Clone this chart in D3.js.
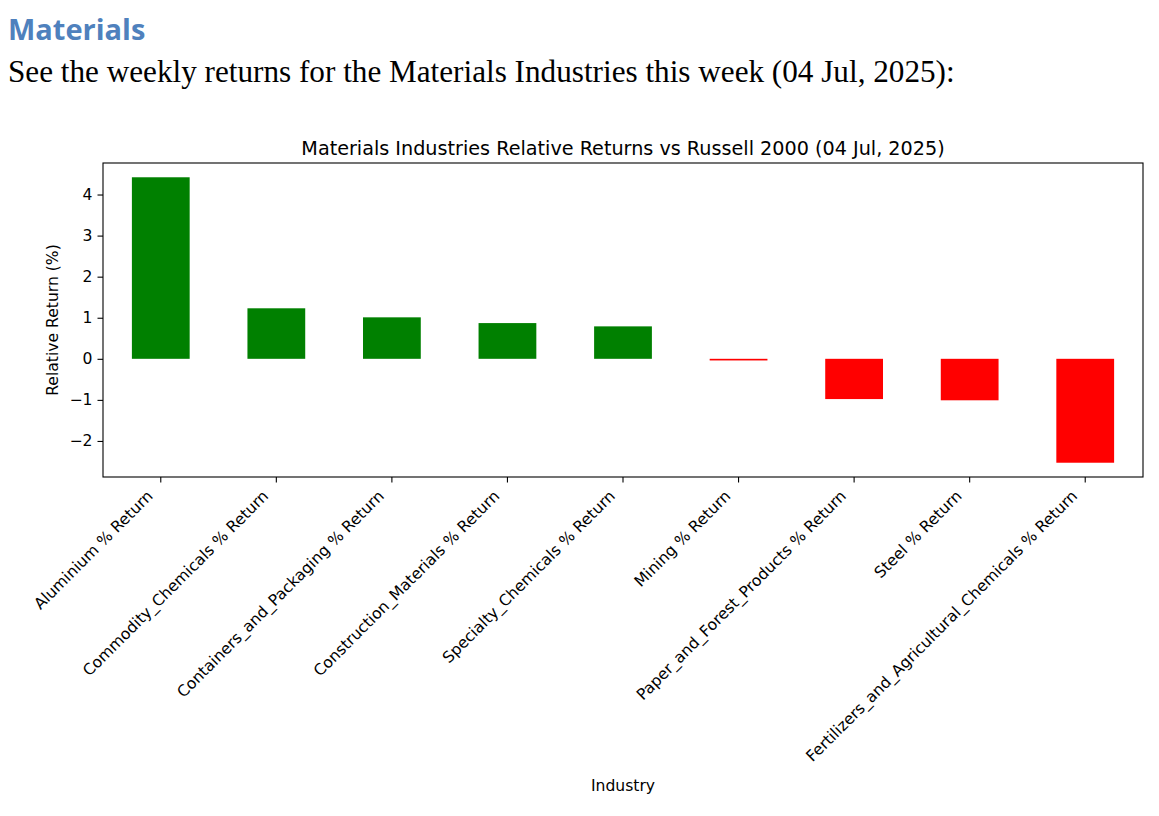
<!DOCTYPE html>
<html>
<head>
<meta charset="utf-8">
<script src="https://cdn.jsdelivr.net/npm/d3@7"></script>
<style>
  body { margin: 0; background: #fff; }
  svg { display: block; }
</style>
</head>
<body>
<div id="chart"></div>
<script>
// datos
const industries = [
  "Aluminium % Return",
  "Commodity_Chemicals % Return",
  "Containers_and_Packaging % Return",
  "Construction_Materials % Return",
  "Specialty_Chemicals % Return",
  "Mining % Return",
  "Paper_and_Forest_Products % Return",
  "Steel % Return",
  "Fertilizers_and_Agricultural_Chemicals % Return"
]
const returns = [4.42, 1.23, 1.01, 0.87, 0.79, -0.04, -0.98, -1.01, -2.53]
const yTicks = [-2, -1, 0, 1, 2, 3, 4]

const heading = "Materials"
const intro = "See the weekly returns for the Materials Industries this week (04 Jul, 2025):"
const chartTitle = "Materials Industries Relative Returns vs Russell 2000 (04 Jul, 2025)"

// medidas
const width = 1159
const height = 816
const plot = { left: 103, right: 1143, top: 163, bottom: 477 }

const svg = d3.select("#chart").append("svg").attr("width", width).attr("height", height)

// cabecera
svg.append("text").text(heading)
  .attr("x", 8).attr("y", 40)
  .attr("font-family", "Open Sans, sans-serif").attr("font-weight", "bold")
  .attr("font-size", 29).attr("fill", "#4f81bd")

const introText = svg.append("text").text(intro)
  .attr("x", 8).attr("y", 82)
  .attr("font-family", "Liberation Serif, serif")
  .attr("font-size", 28).attr("fill", "#000")
// ajustar al ancho del original (~947px)
const w0 = introText.node().getComputedTextLength()
introText.attr("font-size", 28 * 947 / w0)

// escalas
const x = d3.scaleBand().domain(industries).range([plot.left, plot.right]).paddingInner(0.5).paddingOuter(0.25)
const lo = d3.min(returns), hi = d3.max(returns)
const pad = (hi - lo) * 0.05
const y = d3.scaleLinear().domain([lo - pad, hi + pad]).range([plot.bottom, plot.top])

const font = "DejaVu Sans, sans-serif"
const fs = 15.6

// barras
svg.append("g").selectAll("rect").data(returns).enter().append("rect")
  .attr("x", (d, i) => x(industries[i]))
  .attr("width", x.bandwidth())
  .attr("y", d => y(Math.max(0, d)))
  .attr("height", d => Math.abs(y(d) - y(0)))
  .attr("fill", d => d >= 0 ? "green" : "red")

// ejes
const xAxis = d3.axisBottom(x).tickSizeOuter(0).tickSize(5.5).tickPadding(3)
const yAxis = d3.axisLeft(y).tickValues(yTicks).tickSizeOuter(0).tickSize(5.5).tickPadding(5)

const xg = svg.append("g").attr("transform", `translate(0, ${plot.bottom})`).call(xAxis)
xg.select(".domain").remove()
xg.selectAll(".tick line").attr("stroke", "#000").attr("stroke-width", 1.1)
xg.selectAll(".tick text")
  .attr("font-family", font).attr("font-size", fs).attr("fill", "#000")
  .attr("text-anchor", "end")
  .attr("dy", null).attr("y", 0)
  .attr("transform", "translate(-7, 20) rotate(-45)")

const yg = svg.append("g").attr("transform", `translate(${plot.left}, 0)`).call(yAxis)
yg.select(".domain").remove()
yg.selectAll(".tick line").attr("stroke", "#000").attr("stroke-width", 1.1)
yg.selectAll(".tick text").attr("font-family", font).attr("font-size", fs).attr("fill", "#000")

// marco
svg.append("rect")
  .attr("x", plot.left).attr("y", plot.top)
  .attr("width", plot.right - plot.left).attr("height", plot.bottom - plot.top)
  .attr("fill", "none").attr("stroke", "#000").attr("stroke-width", 1.1)

// titulos
svg.append("text").text(chartTitle)
  .attr("x", (plot.left + plot.right) / 2).attr("y", 155)
  .attr("text-anchor", "middle")
  .attr("font-family", font).attr("font-size", 19.2).attr("fill", "#000")

svg.append("text").text("Relative Return (%)")
  .attr("transform", `translate(58, ${(plot.top + plot.bottom) / 2}) rotate(-90)`)
  .attr("text-anchor", "middle")
  .attr("font-family", font).attr("font-size", fs).attr("fill", "#000")

svg.append("text").text("Industry")
  .attr("x", (plot.left + plot.right) / 2).attr("y", 791)
  .attr("text-anchor", "middle")
  .attr("font-family", font).attr("font-size", fs).attr("fill", "#000")
</script>
</body>
</html>
